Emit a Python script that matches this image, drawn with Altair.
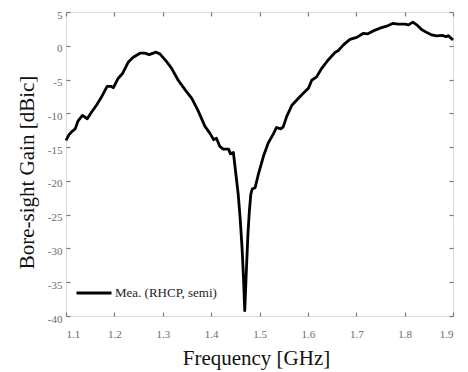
import altair as alt
import pandas as pd

freq = [1.100, 1.106, 1.112, 1.119, 1.125, 1.134, 1.144, 1.153, 1.163, 1.174,
        1.185, 1.193, 1.198, 1.208, 1.217, 1.229, 1.239, 1.253, 1.263, 1.272,
        1.286, 1.294, 1.308, 1.318, 1.332, 1.346, 1.360, 1.373, 1.387, 1.398,
        1.405, 1.411, 1.418, 1.425, 1.436, 1.440, 1.446, 1.452, 1.456, 1.460,
        1.464, 1.467, 1.4695, 1.473, 1.476, 1.479, 1.482, 1.485, 1.491, 1.497,
        1.508, 1.518, 1.529, 1.535, 1.544, 1.549, 1.556, 1.567, 1.580, 1.591,
        1.601, 1.608, 1.618, 1.629, 1.642, 1.656, 1.663, 1.673, 1.677, 1.687,
        1.701, 1.715, 1.723, 1.735, 1.749, 1.763, 1.775, 1.787, 1.801, 1.808,
        1.817, 1.825, 1.835, 1.846, 1.856, 1.866, 1.877, 1.886, 1.890, 1.900]
gain = [-14.0, -13.2, -12.7, -12.3, -11.1, -10.3, -10.8, -9.8, -8.8, -7.5,
        -6.0, -6.0, -6.2, -4.8, -4.1, -2.4, -1.7, -1.1, -1.1, -1.3,
        -0.95, -1.2, -2.35, -3.3, -5.1, -6.5, -7.8, -9.6, -11.9, -13.0,
        -13.9, -13.7, -14.9, -15.3, -15.3, -16.0, -15.8, -19.5, -22.0, -25.5,
        -30.0, -34.5, -39.2, -33.0, -28.0, -24.5, -22.0, -21.2, -21.0, -19.2,
        -16.4, -14.4, -13.0, -12.1, -12.3, -12.0, -10.5, -8.8, -7.8, -7.0,
        -6.3, -5.1, -4.6, -3.3, -2.1, -1.0, -0.7, 0.1, 0.36, 0.95,
        1.25, 1.85, 1.75, 2.2, 2.6, 2.9, 3.3, 3.2, 3.2, 3.1,
        3.5, 3.1, 2.4, 1.95, 1.6, 1.45, 1.55, 1.35, 1.5, 0.85]
series_name = "Mea. (RHCP, semi)"

x_ticks = [1.1, 1.2, 1.3, 1.4, 1.5, 1.6, 1.7, 1.8, 1.9]
y_ticks = [-40, -35, -30, -25, -20, -15, -10, -5, 0, 5]

df = pd.DataFrame({"freq": freq, "gain": gain, "series": [series_name] * len(freq)})

W, H = 387, 304
FONT = "'Liberation Serif', 'Times New Roman', Times, serif"
GREY = "#8a8a8a"
LABEL = "#6a6a6a"

xs = alt.Scale(domain=[1.1, 1.9], nice=False, zero=False)
ys = alt.Scale(domain=[-40, 5], nice=False, zero=False)

main = alt.Chart(df).mark_line(strokeWidth=2.8, strokeJoin="round").encode(
    x=alt.X("freq:Q", scale=xs, axis=alt.Axis(
        orient="bottom", values=x_ticks, format=".1f", ticks=False, tickSize=0,
        domain=False, grid=False, labelFont=FONT, labelFontSize=11,
        labelColor=LABEL, labelPadding=12, labelBaseline="top",
        title="Frequency [GHz]", titleFont=FONT, titleFontSize=21,
        titleFontWeight="normal", titleColor="#111", titleX=190, titleY=48,
        titleBaseline="alphabetic", titleAlign="center")),
    y=alt.Y("gain:Q", scale=ys, axis=alt.Axis(
        orient="left", values=y_ticks, labelExpr="'' + datum.value",
        ticks=False, tickSize=0, domain=False, grid=False, labelFont=FONT,
        labelFontSize=11, labelColor=LABEL, labelPadding=4,
        labelBaseline="middle", labelOffset=3,
        title="Bore-sight Gain [dBic]", titleFont=FONT, titleFontSize=21,
        titleFontWeight="normal", titleColor="#111", titleX=-33, titleY=160,
        titleBaseline="alphabetic", titleAlign="center", titleAngle=270)),
    color=alt.Color("series:N", scale=alt.Scale(range=["black"]), legend=alt.Legend(
        title=None, orient="none", legendX=9, legendY=262, padding=0,
        symbolType="stroke", symbolSize=1225, symbolStrokeWidth=2.8,
        labelFont=FONT, labelFontSize=13, labelColor="#222", labelOffset=2)),
)

def tick_axis(orient, values, offset):
    return alt.Axis(orient=orient, values=values, labels=False, domain=False,
                    grid=False, ticks=True, tickSize=4, tickColor="#777",
                    tickWidth=1.2, offset=offset, title=None)

ticks_a = alt.Chart(df).mark_line(opacity=0).encode(
    x=alt.X("freq:Q", scale=xs, axis=tick_axis("top", x_ticks, -H)),
    y=alt.Y("gain:Q", scale=ys, axis=tick_axis("right", y_ticks, -W)),
)
ticks_b = alt.Chart(df).mark_line(opacity=0).encode(
    x=alt.X("freq:Q", scale=xs, axis=tick_axis("bottom", x_ticks, -H)),
    y=alt.Y("gain:Q", scale=ys, axis=tick_axis("left", y_ticks, -W)),
)

chart = alt.layer(main, ticks_a, ticks_b).resolve_axis(
    x="independent", y="independent"
).properties(
    width=W, height=H,
    autosize=alt.AutoSizeParams(type="none"),
    padding={"left": 58, "top": 4, "right": 7, "bottom": 56},
).configure_view(stroke=GREY, strokeWidth=1.3).configure(background="white")

chart.save("out.html", embed_options={"renderer": "svg", "actions": False})
